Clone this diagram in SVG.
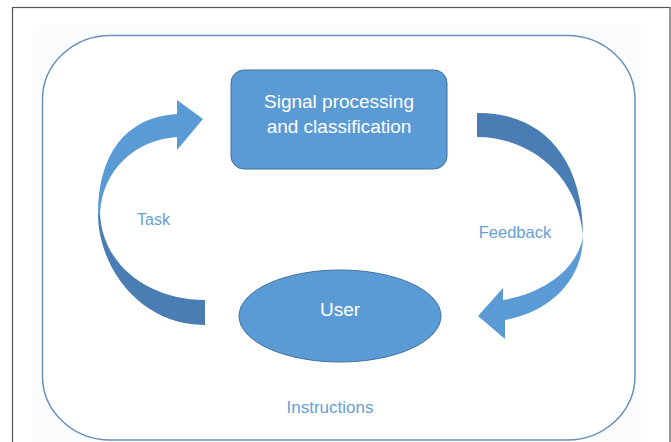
<svg xmlns="http://www.w3.org/2000/svg" width="671" height="442" viewBox="0 0 671 442">
<style>
.node{fill:#5b9bd5;stroke:#41719c;stroke-width:1}
.ntext{font-family:"Liberation Sans",Arial,sans-serif;font-size:19px;fill:#ffffff;text-anchor:middle}
.lbl{font-family:"Liberation Sans",Arial,sans-serif;fill:#659fd6;text-anchor:middle}
.light{fill:#5b9bd5}
.dark{fill:#4a7db3}
</style>
<rect x="0" y="0" width="671" height="442" fill="#ffffff"/>
<rect x="12.5" y="7.5" width="657.5" height="440" fill="#ffffff" stroke="#555555" stroke-width="1.2"/>
<rect x="33" y="25" width="608" height="417" fill="#fbfcfd"/>
<g id="frame">
<rect x="42.5" y="35.5" width="592.5" height="404.5" rx="68" ry="64" fill="#ffffff" stroke="#6a8fba" stroke-width="1.5"/>
</g>
<g id="connectors">
<g id="task-arrow">
<path class="dark" d="M98,214 C98,265 138,325 205,325 L205,300 C152,300 103,268 100,214 Z"/>
<path class="light" d="M98,214 C98,155 125,117 177,114 L177,100 L203,119 L177,150 L177,137 C135,140 102,170 100,214 Z"/>
</g>
<g id="feedback-arrow">
<path class="dark" d="M477,113 C535,112 583,150 583,236 C578,175 530,137 477,137 Z"/>
<path class="light" d="M583,236 C583,280 550,312 505,320 L505,339 L478,316 L503,288 L503,300 C545,293 578,268 583,236 Z"/>
</g>
</g>
<g id="signal">
<rect class="node" x="231" y="70" width="216" height="99" rx="13" ry="13"/>
<text class="ntext" x="339" y="108">Signal processing</text>
<text class="ntext" x="339" y="133">and classification</text>
</g>
<g id="user">
<ellipse class="node" cx="340" cy="316" rx="101" ry="46"/>
<text class="ntext" x="340" y="316">User</text>
</g>
<g id="labels">
<text class="lbl" x="153.5" y="225" font-size="16">Task</text>
<text class="lbl" x="515" y="238" font-size="16.5">Feedback</text>
<text class="lbl" x="330" y="413" font-size="17">Instructions</text>
</g>
</svg>
